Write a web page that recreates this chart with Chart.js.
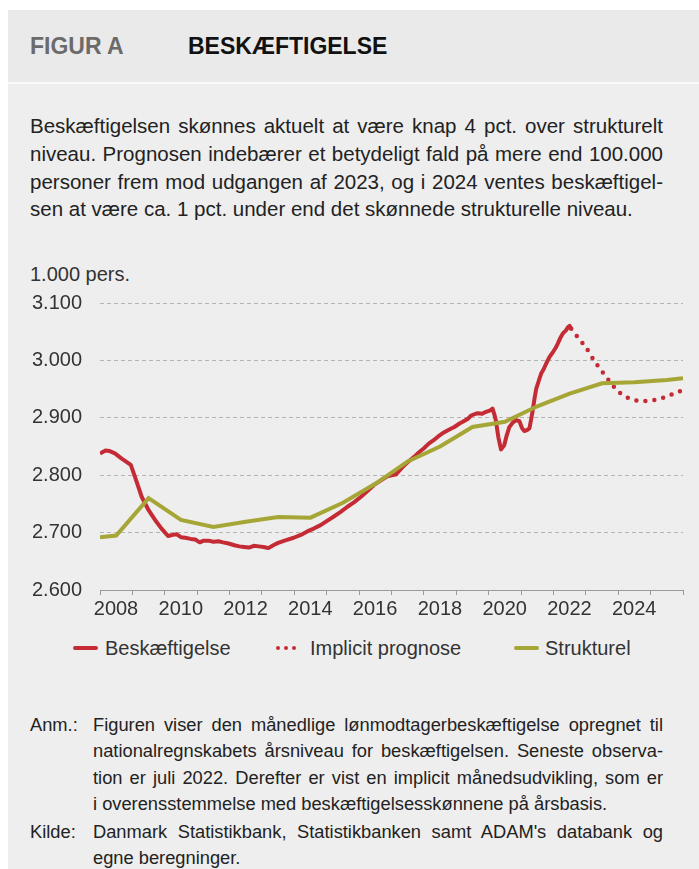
<!DOCTYPE html>
<html lang="da">
<head>
    <meta charset="UTF-8">
    <title>Beskæftigelse</title>
    <style>
        body { margin: 0; width: 699px; height: 869px; overflow: hidden; background: #fff;
               font-family: "Liberation Sans", Arial, sans-serif; color: #222; position: relative; }
        .box { position: absolute; left: 8px; top: 10px; right: 0; bottom: 0; background: #eeeeee; }
        .head { position: absolute; left: 8px; top: 10px; right: 0; height: 72px; background: #eaeaea; }
        .sep { position: absolute; left: 8px; top: 82px; right: 0; height: 2px; background: #fafafa; }
        .fig { position: absolute; left: 30px; top: 35px; font-size: 23px; line-height: 23px; font-weight: bold; color: #6b6b6b; }
        .title { position: absolute; left: 188px; top: 35px; font-size: 23px; line-height: 23px; font-weight: bold; color: #111; }
        .lead { position: absolute; left: 30px; top: 112px; width: 633px; font-size: 20.5px; line-height: 27.8px; }
        .lead div, .note div.j { text-align: justify; text-align-last: justify; }
        .unit { position: absolute; left: 30px; top: 264px; font-size: 20px; line-height: 20px; color: #333; }
        .chart-wrap { position: absolute; left: 0; top: 290px; width: 699px; height: 340px; }
        .legend { position: absolute; top: 636px; left: 0; width: 699px; height: 24px; font-size: 20px; line-height: 24px; color: #333; }
        .legend span.item { position: absolute; top: 0; }
        .mark { position: absolute; top: 10px; height: 4px; border-radius: 2px; }
        .dots { position: absolute; top: 10px; height: 4px; }
        .dots i { position: absolute; top: 0; width: 4px; height: 4px; border-radius: 2px; background: #c52b35; }
        .note { position: absolute; left: 30px; font-size: 18.3px; line-height: 26.3px; color: #222; }
        .note .lab { position: absolute; left: 0; top: 0; }
        .note .txt { position: absolute; left: 63px; top: 0; width: 570px; }
    </style>
</head>
<body>
    <div class="box"></div>
    <div class="head"></div>
    <div class="sep"></div>
    <div class="fig">FIGUR A</div>
    <div class="title">BESKÆFTIGELSE</div>

    <div class="lead">
        <div>Beskæftigelsen skønnes aktuelt at være knap 4 pct. over strukturelt</div>
        <div>niveau. Prognosen indebærer et betydeligt fald på mere end 100.000</div>
        <div>personer frem mod udgangen af 2023, og i 2024 ventes beskæftigel-</div>
        <div style="text-align-last: left">sen at være ca. 1 pct. under end det skønnede strukturelle niveau.</div>
    </div>

    <div class="unit">1.000 pers.</div>
    <div class="chart-wrap"><canvas id="empChart" width="699" height="340"></canvas></div>

    <div class="legend">
        <span class="mark" style="left:73px; width:25px; background:#c52b35"></span>
        <span class="item" style="left:105px">Beskæftigelse</span>
        <span class="dots" style="left:276px"><i style="left:0"></i><i style="left:8px"></i><i style="left:16px"></i></span>
        <span class="item" style="left:310px">Implicit prognose</span>
        <span class="mark" style="left:514px; width:25px; background:#a6a637"></span>
        <span class="item" style="left:545px">Strukturel</span>
    </div>

    <div class="note" style="top:712px">
        <div class="lab">Anm.:</div>
        <div class="txt">
            <div class="j">Figuren viser den månedlige lønmodtagerbeskæftigelse opregnet til</div>
            <div class="j">nationalregnskabets årsniveau for beskæftigelsen. Seneste observa-</div>
            <div class="j">tion er juli 2022. Derefter er vist en implicit månedsudvikling, som er</div>
            <div>i overensstemmelse med beskæftigelsesskønnene på årsbasis.</div>
        </div>
    </div>
    <div class="note" style="top:819px">
        <div class="lab">Kilde:</div>
        <div class="txt">
            <div class="j">Danmark Statistikbank, Statistikbanken samt ADAM's databank og</div>
            <div>egne beregninger.</div>
        </div>
    </div>

    <script src="https://cdn.jsdelivr.net/npm/chart.js"></script>
    <script>
        // Beskæftigelse (månedlig, aflæst) - år som decimaltal, 1.000 pers.
        var empYears = [2008.00, 2008.17, 2008.30, 2008.46, 2008.67, 2008.85, 2008.95, 2009.08, 2009.29, 2009.50,
                        2009.70, 2009.90, 2010.10, 2010.25, 2010.37, 2010.50, 2010.63, 2010.80, 2010.94, 2011.08,
                        2011.20, 2011.35, 2011.50, 2011.66, 2011.80, 2011.97, 2012.15, 2012.30, 2012.45, 2012.60,
                        2012.75, 2012.90, 2013.05, 2013.20, 2013.35, 2013.50, 2013.70, 2013.98, 2014.20, 2014.40,
                        2014.60, 2014.81, 2015.00, 2015.22, 2015.43, 2015.64, 2015.85, 2016.05, 2016.25, 2016.46,
                        2016.70, 2016.87, 2017.00, 2017.13, 2017.39, 2017.55, 2017.70, 2017.85, 2018.00, 2018.15,
                        2018.30, 2018.45, 2018.63, 2018.80, 2018.94, 2019.10, 2019.20, 2019.35, 2019.46, 2019.55,
                        2019.66, 2019.80, 2019.90, 2020.05, 2020.12, 2020.18, 2020.22, 2020.30, 2020.38, 2020.48,
                        2020.56, 2020.64, 2020.75, 2020.85, 2020.95, 2021.03, 2021.10, 2021.20, 2021.26, 2021.32,
                        2021.36, 2021.42, 2021.47, 2021.55, 2021.62, 2021.70, 2021.78, 2021.88, 2021.99, 2022.07,
                        2022.14, 2022.22, 2022.29, 2022.38, 2022.45, 2022.50, 2022.55];
        var empValues = [2838, 2843, 2842, 2838, 2829, 2822, 2818, 2797, 2762, 2739,
                         2722, 2707, 2694, 2696, 2697, 2692, 2691, 2689, 2688, 2683,
                         2686, 2686, 2684, 2685, 2683, 2681, 2678, 2676, 2675, 2674,
                         2677, 2676, 2675, 2673, 2678, 2682, 2686, 2691, 2696, 2702,
                         2707, 2713, 2720, 2728, 2736, 2745, 2753, 2762, 2772, 2783,
                         2792, 2798, 2800, 2801, 2817, 2825, 2832, 2840, 2847, 2855,
                         2861, 2868, 2875, 2880, 2884, 2890, 2893, 2898, 2904, 2906,
                         2908, 2907, 2910, 2913, 2916, 2905, 2896, 2866, 2845, 2852,
                         2870, 2884, 2892, 2896, 2894, 2882, 2877, 2879, 2882, 2900,
                         2913, 2935, 2951, 2965, 2977, 2985, 2995, 3006, 3015, 3022,
                         3030, 3040, 3047, 3052, 3058, 3060, 3055];

        // Implicit prognose efter juli 2022
        var progYears = [2022.55, 2022.78, 2023.00, 2023.25, 2023.50, 2023.75, 2024.00, 2024.25,
                         2024.50, 2024.75, 2025.00, 2025.25, 2025.50, 2025.75, 2025.98];
        var progValues = [3055, 3038, 3023, 3000, 2981, 2962, 2946, 2936,
                          2931, 2929, 2930, 2933, 2937, 2943, 2948];

        // Strukturel beskæftigelse (årsniveau midt i året)
        var strYears = [2008.0, 2008.5, 2009.5, 2010.5, 2011.5, 2012.5, 2013.5, 2014.5, 2015.5, 2016.5,
                        2017.5, 2018.5, 2019.5, 2020.5, 2021.5, 2022.5, 2023.5, 2024.5, 2025.5, 2026.0];
        var strValues = [2692, 2695, 2760, 2722, 2710, 2719, 2727, 2726, 2752, 2785,
                         2824, 2850, 2884, 2893, 2920, 2942, 2960, 2962, 2966, 2969];

        var yTicks = [2600, 2700, 2800, 2900, 3000, 3100];
        var xLabelYears = [2008, 2010, 2012, 2014, 2016, 2018, 2020, 2022, 2024];

        var RED = '#c52b35';
        var GREEN = '#a6a637';

        function toPoints(xs, ys) {
            return xs.map(function (x, i) { return { x: x, y: ys[i] }; });
        }
        function fmt(v) {
            return String(v).replace(/\B(?=(\d{3})+(?!\d))/g, '.');
        }

        Chart.defaults.font.family = '"Liberation Sans", Arial, sans-serif';
        Chart.defaults.font.size = 20;
        Chart.defaults.color = '#333';

        var ctx = document.getElementById('empChart').getContext('2d');
        var empChart = new Chart(ctx, {
            type: 'line',
            data: {
                datasets: [{
                    label: 'Strukturel',
                    data: toPoints(strYears, strValues),
                    borderColor: GREEN,
                    borderWidth: 4,
                    pointRadius: 0,
                    tension: 0
                }, {
                    label: 'Implicit prognose',
                    data: toPoints(progYears, progValues),
                    borderColor: RED,
                    borderWidth: 4.5,
                    borderDash: [0, 9],
                    borderCapStyle: 'round',
                    pointRadius: 0,
                    tension: 0.3
                }, {
                    label: 'Beskæftigelse',
                    data: toPoints(empYears, empValues),
                    borderColor: RED,
                    borderWidth: 4,
                    borderJoinStyle: 'round',
                    pointRadius: 0,
                    tension: 0
                }]
            },
            options: {
                responsive: false,
                animation: false,
                layout: { padding: { left: 0, right: 16, top: 13, bottom: 0 } },
                plugins: { legend: { display: false }, tooltip: { enabled: false } },
                scales: {
                    x: {
                        type: 'linear',
                        min: 2008,
                        max: 2026,
                        afterFit: function (scale) {
                            scale.height = 40;
                            scale.paddingLeft = 0;
                            scale.paddingRight = 0;
                        },
                        afterBuildTicks: function (scale) {
                            var t = [];
                            for (var y = 2008; y <= 2026; y++) t.push({ value: y });
                            scale.ticks = t;
                        },
                        ticks: {
                            autoSkip: false,
                            maxRotation: 0,
                            padding: 2,
                            labelOffset: 16,
                            color: '#333',
                            callback: function (v) {
                                return xLabelYears.indexOf(v) >= 0 ? String(v) : '';
                            }
                        },
                        grid: { drawOnChartArea: false, drawTicks: true, tickLength: 5, color: '#9a9a9a', lineWidth: 1 },
                        border: { display: true, color: '#9a9a9a', width: 1 }
                    },
                    y: {
                        min: 2600,
                        max: 3100,
                        afterFit: function (scale) {
                            scale.width = 100;
                            scale.paddingTop = 0;
                            scale.paddingBottom = 0;
                        },
                        afterBuildTicks: function (scale) {
                            scale.ticks = yTicks.map(function (v) { return { value: v }; });
                        },
                        ticks: { padding: 18, color: '#333', callback: function (v) { return fmt(v); } },
                        grid: {
                            drawTicks: false,
                            lineWidth: 1,
                            color: function (c) { return c.tick && c.tick.value === 2600 ? 'rgba(0,0,0,0)' : '#b4b4b4'; }
                        },
                        border: { display: false, dash: [4, 3] }
                    }
                }
            }
        });
    </script>
</body>
</html>
